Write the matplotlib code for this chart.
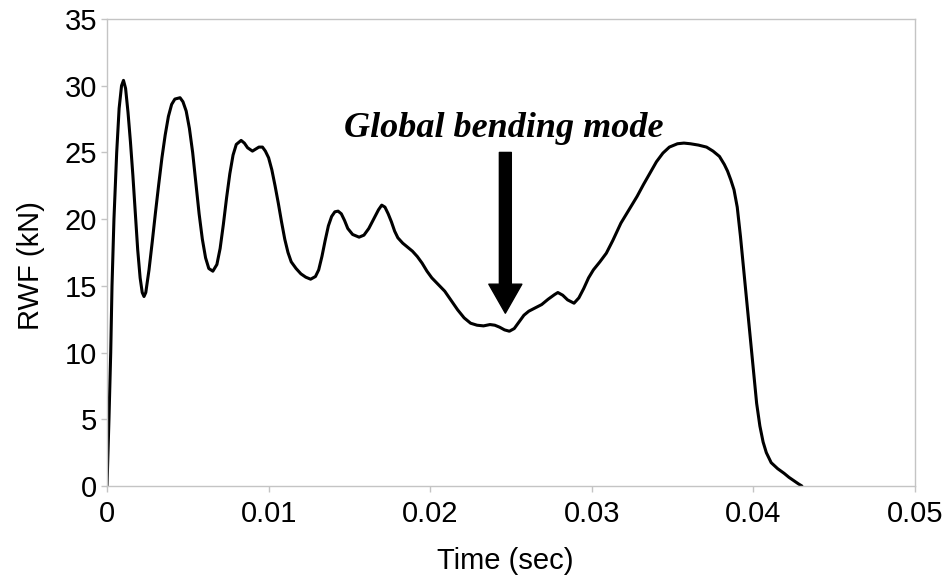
import matplotlib
matplotlib.use("Agg")
import matplotlib.pyplot as plt

# Rigid-wall force history
time_s = [
    0.0, 0.00012, 0.00023, 0.00031, 0.00043, 0.0006, 0.00075, 0.0009,
    0.00102, 0.00115, 0.0013, 0.00145, 0.0016, 0.00175, 0.0019, 0.00205,
    0.00218, 0.00229, 0.0024, 0.0026, 0.0028, 0.0030, 0.0032, 0.0034,
    0.0036, 0.0038, 0.0040, 0.0042, 0.00452, 0.0047, 0.0049, 0.0051,
    0.0053, 0.0055, 0.0057, 0.0059, 0.0061, 0.0063, 0.00655, 0.0068,
    0.0070, 0.0072, 0.0074, 0.0076, 0.0078, 0.0080, 0.0083, 0.0085,
    0.0087, 0.0090, 0.0092, 0.0094, 0.00962, 0.0098, 0.0100, 0.0102,
    0.0104, 0.0106, 0.0108, 0.0110, 0.0112, 0.0114, 0.0117, 0.0120,
    0.0123, 0.0126, 0.0129, 0.0131, 0.0133, 0.0135, 0.0137, 0.0139,
    0.0141, 0.0143, 0.0145, 0.0147, 0.0149, 0.0152, 0.0156, 0.0159,
    0.0162, 0.0165, 0.0168, 0.0170, 0.0172, 0.0174, 0.0176, 0.0178,
    0.0180, 0.0183, 0.0186, 0.0189, 0.0192, 0.0195, 0.0198, 0.0201,
    0.0205, 0.0209, 0.0213, 0.0217, 0.0221, 0.0225, 0.0229, 0.0233,
    0.0237, 0.0240, 0.0243, 0.0246, 0.0249, 0.0252, 0.0255, 0.0258,
    0.0261, 0.0265, 0.0269, 0.0273, 0.0277, 0.0279, 0.0282, 0.0285,
    0.0289, 0.0292, 0.0295, 0.0298, 0.0301, 0.0305, 0.0309, 0.0313,
    0.0318, 0.0323, 0.0328, 0.0332, 0.0336, 0.0340, 0.0344, 0.0348,
    0.0353, 0.0357, 0.0361, 0.0366, 0.0371, 0.0375, 0.0379, 0.0382,
    0.0384, 0.0386, 0.0388, 0.0390, 0.0392, 0.0394, 0.0396, 0.0398,
    0.0400, 0.0402, 0.0404, 0.0406, 0.0408, 0.0411, 0.0415, 0.0419,
    0.0422, 0.0425, 0.0428, 0.0430,
]
force_kn = [
    0.0, 4.95, 10.0, 15.0, 20.0, 25.0, 28.3, 30.0,
    30.4, 29.8, 28.0, 25.8, 23.3, 20.5, 17.7, 15.6,
    14.5, 14.2, 14.5, 16.2, 18.3, 20.5, 22.6, 24.6,
    26.3, 27.7, 28.6, 29.0, 29.1, 28.8, 28.1, 26.8,
    25.0, 22.7, 20.4, 18.5, 17.1, 16.3, 16.1, 16.6,
    17.8, 19.6, 21.6, 23.4, 24.8, 25.6, 25.9, 25.7,
    25.35, 25.1, 25.25, 25.4, 25.4, 25.1, 24.6, 23.7,
    22.5, 21.2, 19.8, 18.5, 17.5, 16.8, 16.3, 15.9,
    15.65, 15.5, 15.7, 16.2, 17.2, 18.4, 19.5, 20.2,
    20.55, 20.6, 20.4, 19.9, 19.3, 18.85, 18.65, 18.8,
    19.3, 20.0, 20.7, 21.05, 20.9, 20.4, 19.8, 19.1,
    18.6, 18.2, 17.9, 17.6, 17.2, 16.7, 16.1, 15.6,
    15.1, 14.6, 13.9, 13.2, 12.6, 12.2, 12.05, 12.0,
    12.1, 12.05, 11.9, 11.7, 11.6, 11.8, 12.3, 12.8,
    13.1, 13.35, 13.6, 14.0, 14.35, 14.5, 14.3, 13.95,
    13.7, 14.1, 14.8, 15.6, 16.2, 16.8, 17.45, 18.4,
    19.7, 20.7, 21.7, 22.6, 23.45, 24.3, 24.95, 25.4,
    25.65, 25.7, 25.65, 25.55, 25.4, 25.1, 24.7, 24.1,
    23.6, 22.95, 22.2, 20.9, 18.7, 16.2, 13.7, 11.2,
    8.7, 6.2, 4.5, 3.3, 2.5, 1.75, 1.3, 0.95,
    0.65, 0.4, 0.15, 0.0,
]

x_ticks = [0, 0.01, 0.02, 0.03, 0.04, 0.05]
x_tick_labels = ["0", "0.01", "0.02", "0.03", "0.04", "0.05"]
y_ticks = [0, 5, 10, 15, 20, 25, 30, 35]

annotation_text = "Global bending mode"
arrow_time = 0.02465
arrow_top, arrow_tip = 25.0, 12.95

plt.rcParams["font.family"] = ["Liberation Sans", "DejaVu Sans"]

fig = plt.figure(figsize=(9.5, 5.81), dpi=100)
ax = fig.add_axes([107 / 950, 1 - 486 / 581, (915 - 107) / 950, (486 - 19) / 581])

ax.plot(time_s, force_kn, color="black", linewidth=2.2,
        solid_joinstyle="round", solid_capstyle="round")

ax.set_xlim(0, 0.05)
ax.set_ylim(0, 35)
ax.set_xticks(x_ticks)
ax.set_xticklabels(x_tick_labels)
ax.set_yticks(y_ticks)

grey = "#c4c4c4"
for sp in ax.spines.values():
    sp.set_color(grey)
    sp.set_linewidth(1.0)
ax.tick_params(axis="both", colors=grey, labelcolor="black", labelsize=21,
               length=4, width=1.0, direction="out")
ax.tick_params(axis="x", pad=6)
ax.tick_params(axis="y", pad=3)

ax.set_xlabel("Time (sec)", fontsize=21)
ax.set_ylabel("RWF (kN)", fontsize=21)
ax.xaxis.set_label_coords((505 - 107) / 808, (486 - 561) / 467)
ax.xaxis.label.set_va("center")
ax.yaxis.set_label_coords((31 - 107) / 808, (486 - 266) / 467)
ax.yaxis.label.set_va("center")

ax.annotate("", xy=(arrow_time, arrow_tip), xytext=(arrow_time, arrow_top),
            arrowprops=dict(facecolor="black", edgecolor="black",
                            width=8.6, headwidth=23.8, headlength=20.9, shrink=0.0))
ax.text(0.02457, 26.18, annotation_text, ha="center", va="baseline",
        fontsize=26, fontweight="bold", fontstyle="italic",
        family=["Liberation Serif", "DejaVu Serif"])

fig.savefig("out.png", dpi=100)
